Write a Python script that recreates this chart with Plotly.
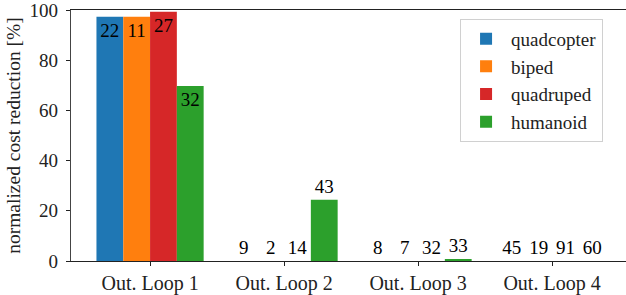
import plotly.graph_objects as go

categories = ["Out. Loop 1", "Out. Loop 2", "Out. Loop 3", "Out. Loop 4"]
series_names = ["quadcopter", "biped", "quadruped", "humanoid"]
quadcopter = [97.3, 0.0, 0.0, 0.0]
biped = [97.3, 0.0, 0.0, 0.0]
quadruped = [99.3, 0.0, 0.0, 0.0]
humanoid = [69.7, 24.4, 0.5, 0.0]
quadcopter_labels = ["22", "9", "8", "45"]
biped_labels = ["11", "2", "7", "19"]
quadruped_labels = ["27", "14", "32", "91"]
humanoid_labels = ["32", "43", "33", "60"]
colors = ["#1f77b4", "#ff7f0e", "#d62728", "#2ca02c"]

values = [quadcopter, biped, quadruped, humanoid]
labels = [quadcopter_labels, biped_labels, quadruped_labels, humanoid_labels]

FONT = "'Liberation Serif', serif"
fig = go.Figure()
for name, vals, labs, col in zip(series_names, values, labels, colors):
    fig.add_trace(go.Bar(
        x=categories, y=vals, name=name, marker=dict(color=col, line=dict(width=0)),
        text=labs,
        textposition=["inside" if v > 50 else "outside" for v in vals],
        insidetextanchor="end",
        textangle=0,
        constraintext="none",
        cliponaxis=False,
        textfont=dict(color="black", size=19, family=FONT),
    ))

fig.update_layout(
    width=626, height=295,
    margin=dict(l=71, r=0, t=8, b=33),
    paper_bgcolor="white", plot_bgcolor="white",
    barmode="group", bargap=0.2, bargroupgap=0,
    font=dict(family=FONT, size=19, color="#222"),
    showlegend=True,
    legend=dict(x=0.701, y=0.965, xanchor="left", yanchor="top",
                bordercolor="#d0d0d0", borderwidth=1, bgcolor="rgba(255,255,255,0.8)",
                font=dict(size=19, family=FONT), tracegroupgap=0, itemwidth=40),
)
fig.update_xaxes(
    range=[-0.59, 3.552], showline=True, linecolor="#222", linewidth=1.2, mirror=True,
    ticks="outside", ticklen=4, tickcolor="#222", showgrid=False, zeroline=False,
    tickfont=dict(size=20, family=FONT),
)
fig.update_yaxes(
    range=[0, 100], showline=True, linecolor="#444", linewidth=1.2,
    ticks="outside", ticklen=4, tickcolor="#222", showgrid=False, zeroline=False,
    tickvals=[0, 20, 40, 60, 80, 100], tickfont=dict(size=19, family=FONT),
    ticklabeloverflow="allow", ticklabelstandoff=4,
    title=dict(text="normalized cost reduction [%]", font=dict(size=19.5, family=FONT), standoff=3),
)
fig.write_html("out.html", post_script="document.body.style.margin='0';",
               config={"displayModeBar": False})
